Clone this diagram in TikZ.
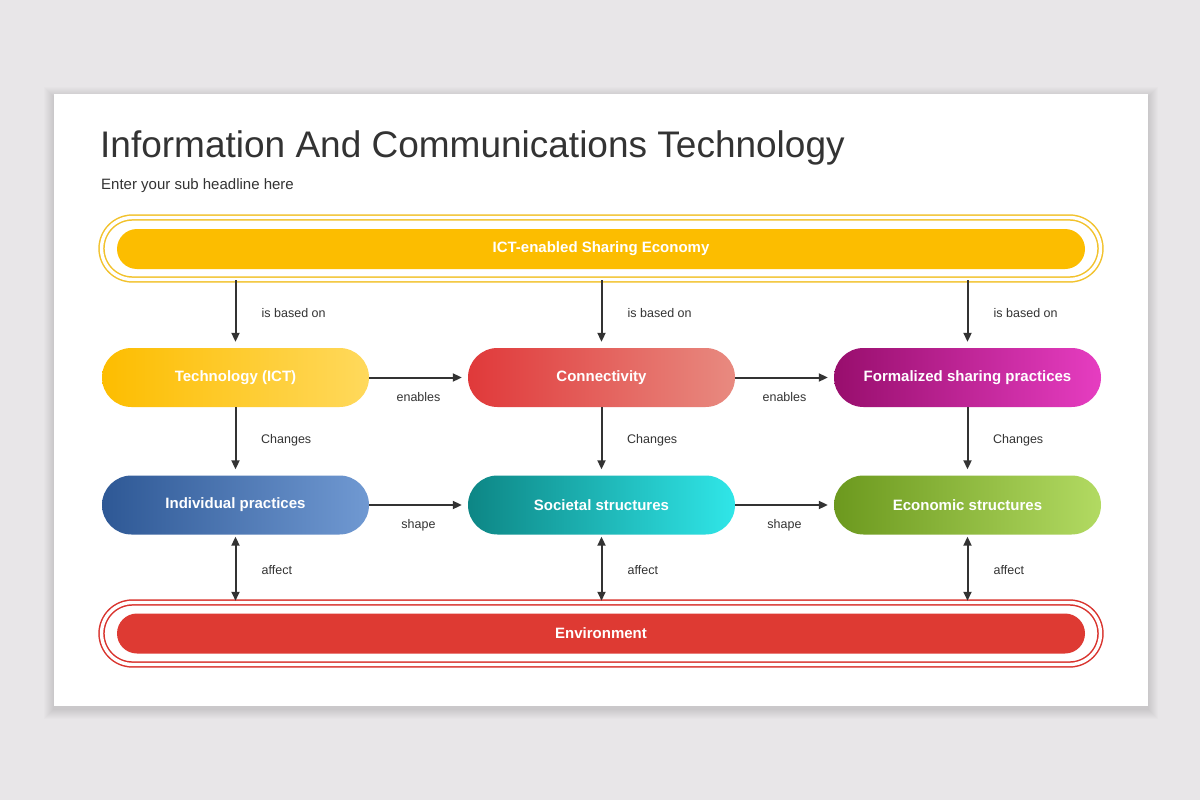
\documentclass[tikz,border=0pt]{standalone}
\usepackage{fontspec}
\setmainfont{Liberation Sans}
\usetikzlibrary{arrows.meta,calc,backgrounds}
\definecolor{bg}{HTML}{E8E6E8}
\definecolor{txt}{HTML}{333333}
\definecolor{ylw}{HTML}{FCBD00}
\definecolor{ylwline}{HTML}{F2C22C}
\definecolor{envred}{HTML}{DE3A33}
\definecolor{envline}{HTML}{D9342E}
\definecolor{techA}{HTML}{FDBD00}\definecolor{techB}{HTML}{FFD95C}
\definecolor{conA}{HTML}{E0393A}\definecolor{conB}{HTML}{E88A80}
\definecolor{forA}{HTML}{980E6D}\definecolor{forB}{HTML}{E63DC1}
\definecolor{indA}{HTML}{2E5895}\definecolor{indB}{HTML}{7099D2}
\definecolor{socA}{HTML}{0D8685}\definecolor{socB}{HTML}{30E6E8}
\definecolor{ecoA}{HTML}{6C991E}\definecolor{ecoB}{HTML}{B2DA62}
\tikzset{
  x=1pt,y=-1pt,
  pill/.style={rectangle, rounded corners=29.5pt, minimum width=267pt, minimum height=59pt, inner sep=0pt,
    text=white, font=\fontsize{15}{18}\selectfont\bfseries, shading angle=60},
  barfill/.style={rectangle, rounded corners=20pt, minimum width=968pt, minimum height=40pt, inner sep=0pt,
    text=white, font=\fontsize{15}{18}\selectfont\bfseries},
  ring/.style={rectangle, rounded corners=31pt, minimum width=999pt, minimum height=62pt, inner sep=0pt,
    line width=1.5pt, double=white, double distance=3.4pt},
  conn/.style={draw=txt, line width=2pt, -{Triangle[length=9pt,width=8pt]}},
  biconn/.style={draw=txt, line width=2pt, {Triangle[length=9pt,width=8pt]}-{Triangle[length=9pt,width=8pt]}},
  lbl/.style={text=txt, font=\fontsize{12.5}{15}\selectfont, inner sep=0pt},
  shadowlayer/.style={black, opacity=0.018},
}
\begin{document}
\begin{tikzpicture}
\useasboundingbox (0,0) rectangle (1200,800);
\fill[bg] (0,0) rectangle (1200,800);
% card shadow
\foreach \r in {1,2,...,10}{
  \fill[black, opacity=0.012] (54-\r,94-\r+3) rectangle (1148+\r,706+\r+3);
}
\fill[white] (54,94) rectangle (1148,706);

\node[anchor=base west, text=txt, inner sep=0pt, font=\fontsize{37}{44}\selectfont] (title) at (100,157) {Information And Communications Technology};
\node[anchor=base west, text=txt, inner sep=0pt, font=\fontsize{15}{18}\selectfont] (sub) at (101,189) {Enter your sub headline here};

% top bar
\node[ring, draw=ylwline] (topring) at (601,248.5) {};
\node[barfill, fill=ylw] (top) at (601,249) {ICT-enabled Sharing Economy};

% environment bar
\node[ring, draw=envline] (envring) at (601,633.5) {};
\node[barfill, fill=envred] (env) at (601,633.5) {Environment};

% row 1
\node[pill, left color=techA, right color=techB] (tech) at (235.5,377.5) {Technology (ICT)};
\node[pill, left color=conA, right color=conB] (con) at (601.5,377.5) {Connectivity};
\node[pill, left color=forA, right color=forB] (form) at (967.5,377.5) {Formalized sharing practices};
% row 2
\node[pill, left color=indA, right color=indB] (ind) at (235.5,505) {Individual practices};
\node[pill, left color=socA, right color=socB] (soc) at (601.5,505) {Societal structures};
\node[pill, left color=ecoA, right color=ecoB] (eco) at (967.5,505) {Economic structures};

\begin{scope}[on background layer]
  \foreach \n in {tech,con,form,ind,soc,eco}{
    \foreach \r in {2,4,...,14}{
      \fill[shadowlayer, rounded corners=29.5+\r] ($(\n.south west)+(-\r,\r+5)$) rectangle ($(\n.north east)+(\r,-\r+5)$);
    }
  }
  \foreach \n in {topring,envring}{
    \foreach \r in {2,4,...,14}{
      \fill[shadowlayer, opacity=0.01, rounded corners=31+\r] ($(\n.south west)+(-\r,\r+6)$) rectangle ($(\n.north east)+(\r,-\r+6)$);
    }
  }
\end{scope}

% vertical arrows: is based on
\foreach \n in {tech,con,form}{
  \draw[conn, shorten >=6pt] (\n |- topring.south) -- (\n.north);
  \node[lbl, anchor=west] at ($(\n.north)+(26,-35)$) {is based on};
}
% changes
\draw[conn, shorten >=6pt] (tech.south) -- (ind.north);
\draw[conn, shorten >=6pt] (con.south) -- (soc.north);
\draw[conn, shorten >=6pt] (form.south) -- (eco.north);
\node[lbl, anchor=west] at (261,440) {Changes};
\node[lbl, anchor=west] at (627,440) {Changes};
\node[lbl, anchor=west] at (993,440) {Changes};
% affect
\foreach \n in {ind,soc,eco}{
  \draw[biconn, shorten <=2pt, shorten >=1pt] (\n.south) -- (\n |- envring.north);
  \node[lbl, anchor=west] at ($(\n.south)+(26,35)$) {affect};
}
% horizontal
\draw[conn, shorten >=6pt] (tech.east) -- (con.west) node[lbl, midway, yshift=-20pt] {enables};
\draw[conn, shorten >=6pt] (con.east) -- (form.west) node[lbl, midway, yshift=-20pt] {enables};
\draw[conn, shorten >=6pt] (ind.east) -- (soc.west) node[lbl, midway, yshift=-20pt] {shape};
\draw[conn, shorten >=6pt] (soc.east) -- (eco.west) node[lbl, midway, yshift=-20pt] {shape};
\end{tikzpicture}
\end{document}
